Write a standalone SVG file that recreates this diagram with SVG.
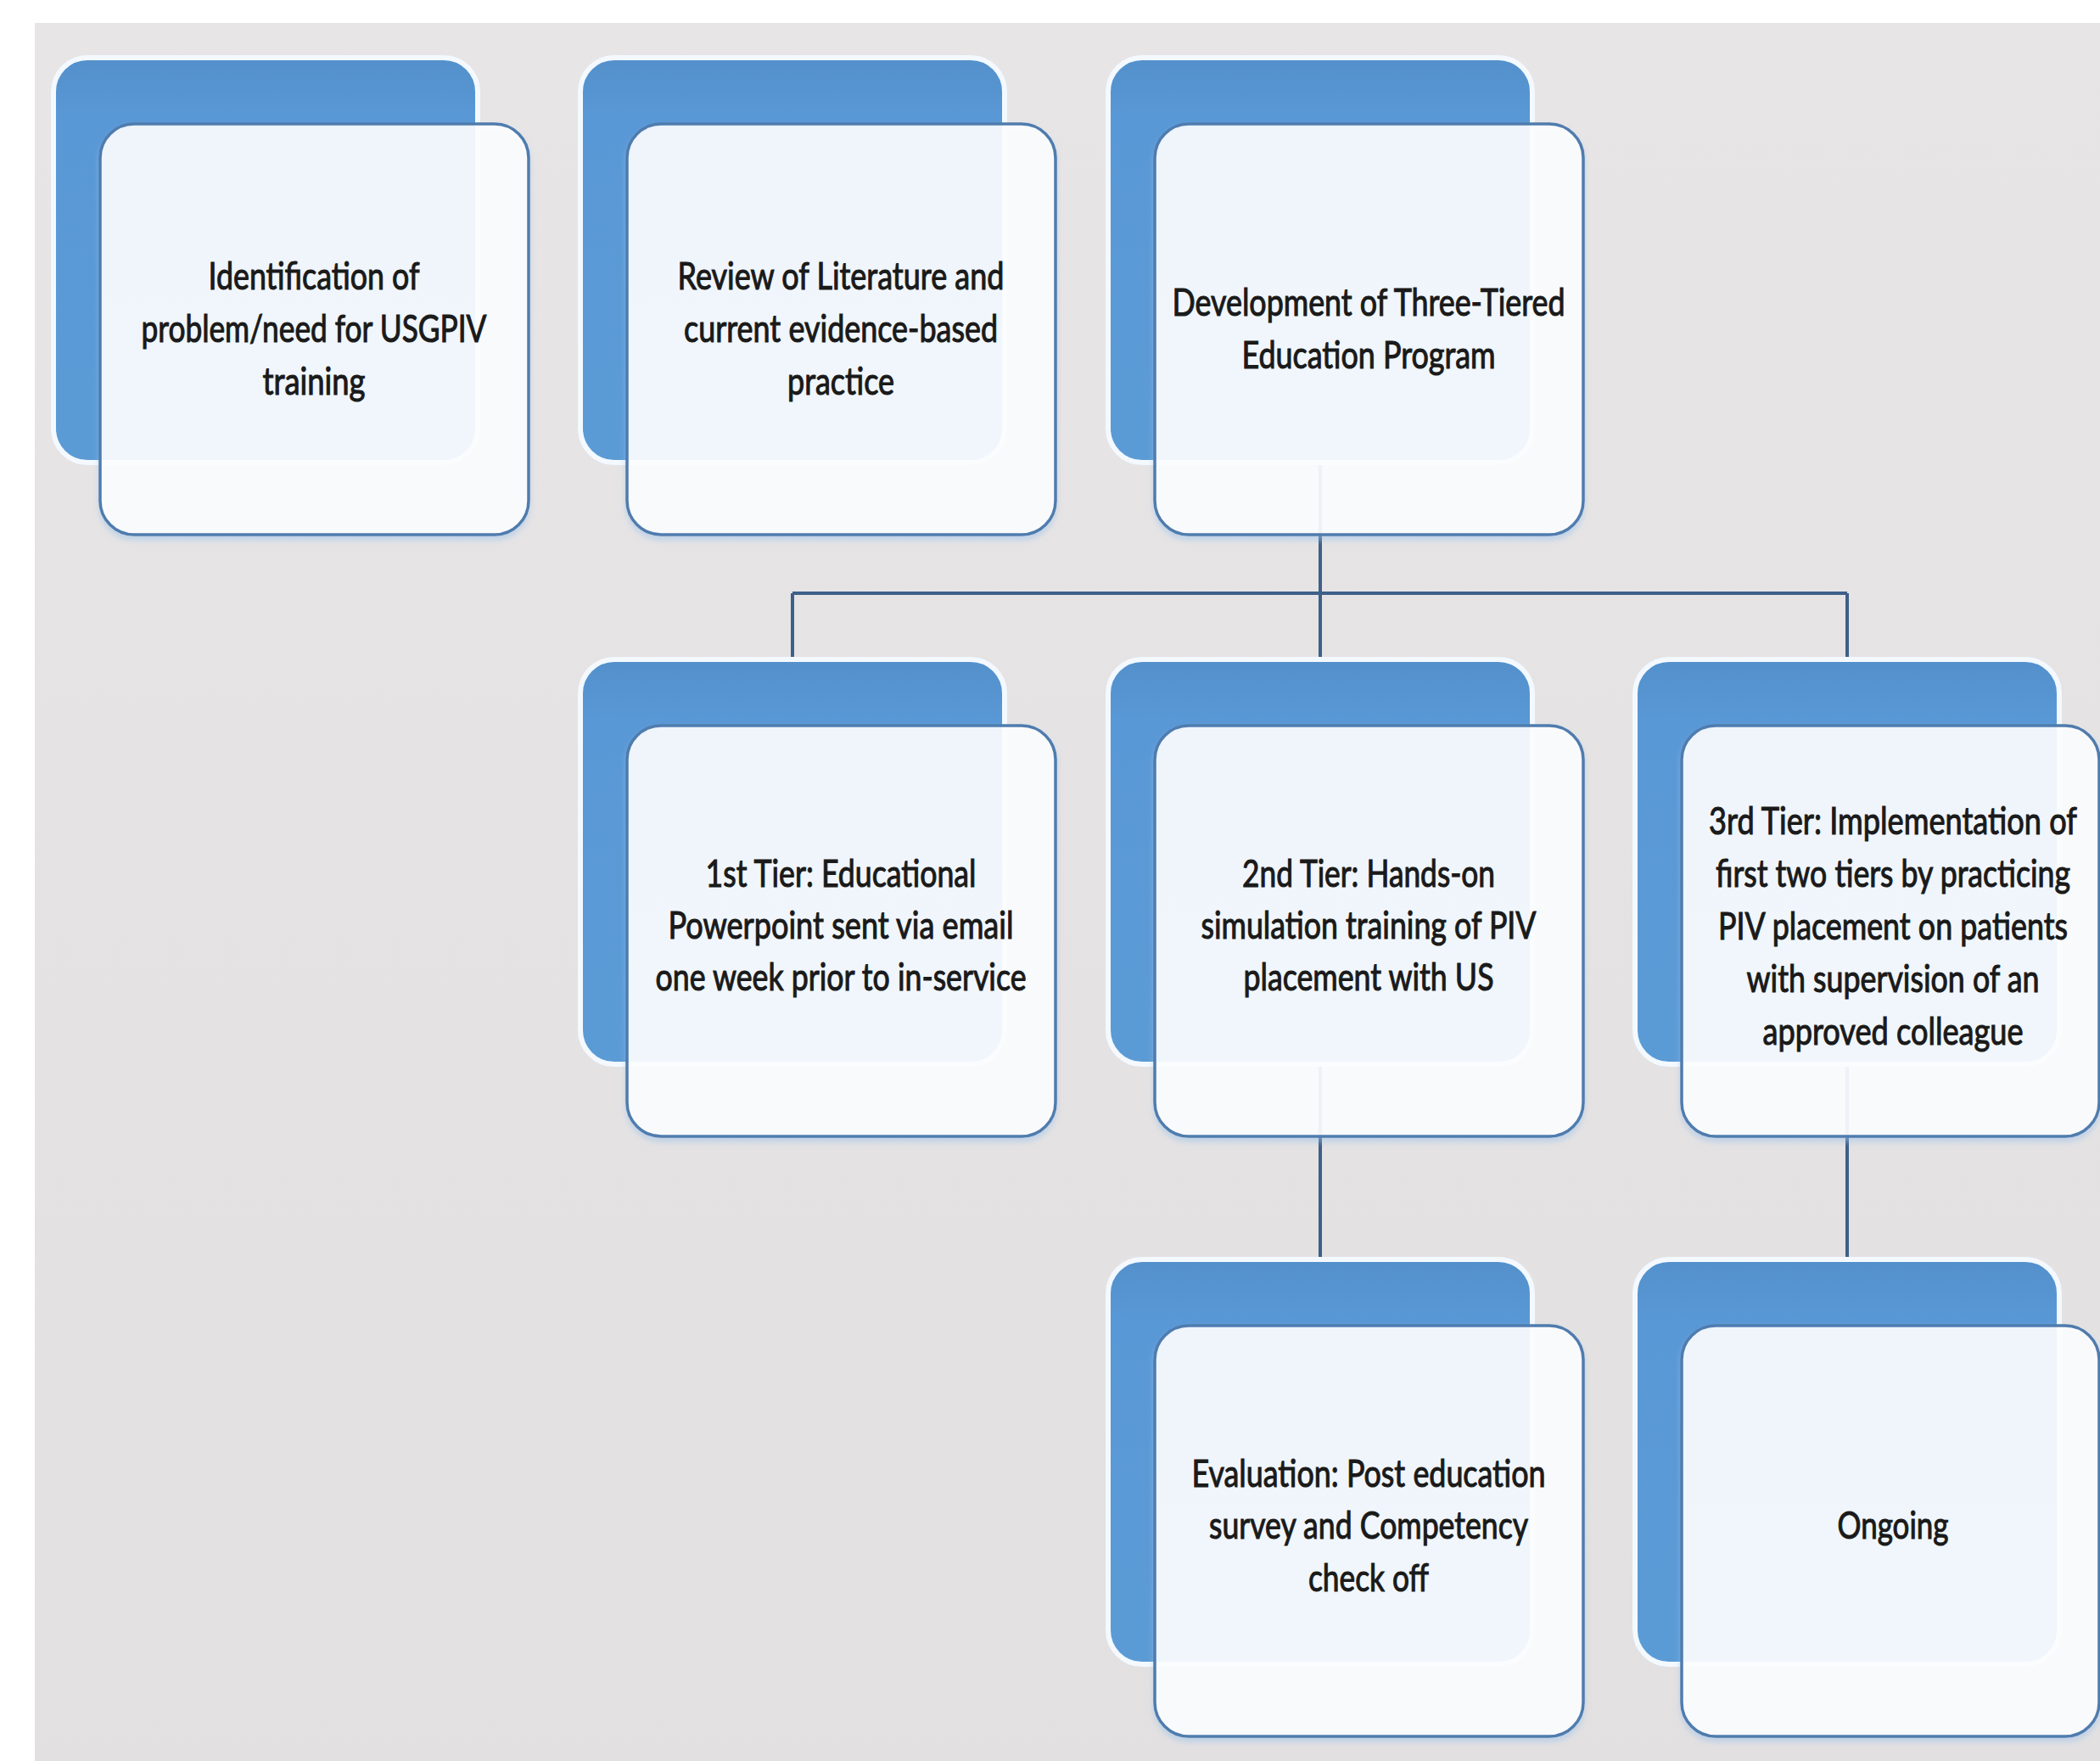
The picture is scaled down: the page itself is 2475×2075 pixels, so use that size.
<svg xmlns="http://www.w3.org/2000/svg" width="2475" height="2075" viewBox="0 0 2475 2075">
  <defs>
    <linearGradient id="bg" x1="0" y1="0" x2="0" y2="1">
      <stop offset="0" stop-color="#e7e5e6"/>
      <stop offset="1" stop-color="#e2e0e1"/>
    </linearGradient>
    <linearGradient id="tab" x1="0" y1="0" x2="0" y2="1">
      <stop offset="0" stop-color="#5390cb"/>
      <stop offset="0.15" stop-color="#5998d6"/>
      <stop offset="1" stop-color="#5b9bd5"/>
    </linearGradient>
    <filter id="glow" x="-5%" y="-5%" width="110%" height="112%">
      <feDropShadow dx="0" dy="5" stdDeviation="3" flood-color="#9cc2ea" flood-opacity="0.55"/>
    </filter>
    <style>
      .back { fill: url(#tab); stroke: #f3f9ff; stroke-width: 6; }
      .card { fill: #ffffff; fill-opacity: 0.88; stroke: #4f7cae; stroke-width: 3.5; filter: url(#glow); }
      .lbl { font-family: Lato, "Open Sans", "Liberation Sans", sans-serif; font-size: 36px; fill: #1a1a1a; stroke: #1a1a1a; stroke-width: 0.9; text-anchor: middle; }
      .wire { fill: none; stroke: #3e6089; stroke-width: 4; }
    </style>
  </defs>

  <!-- page background -->
  <rect x="0" y="0" width="2475" height="2075" fill="#ffffff"/>
  <rect x="41" y="27" width="2434" height="2048" fill="url(#bg)"/>

  <!-- hierarchy connectors (drawn beneath the cards) -->
  <g id="connectors">
    <path class="wire" d="M1556 545 V699"/>
    <path class="wire" d="M934 699 H2177"/>
    <path class="wire" d="M934 699 V777"/>
    <path class="wire" d="M1556 699 V777"/>
    <path class="wire" d="M2177 699 V777"/>
    <path class="wire" d="M1556 1254 V1484"/>
    <path class="wire" d="M2177 1254 V1484"/>
  </g>

  <!-- row 1 -->
  <g id="node-identification">
    <rect class="back" x="63" y="68" width="500" height="477" rx="40"/>
    <rect class="card" x="118" y="146" width="505" height="484" rx="40"/>
    <text class="lbl" transform="translate(370 341) scale(1 1.25)" textLength="249" lengthAdjust="spacingAndGlyphs">Identification of</text>
    <text class="lbl" transform="translate(370 403) scale(1 1.25)" textLength="407" lengthAdjust="spacingAndGlyphs">problem/need for USGPIV</text>
    <text class="lbl" transform="translate(370 465) scale(1 1.25)" textLength="121" lengthAdjust="spacingAndGlyphs">training</text>
  </g>

  <g id="node-review">
    <rect class="back" x="684" y="68" width="500" height="477" rx="40"/>
    <rect class="card" x="739" y="146" width="505" height="484" rx="40"/>
    <text class="lbl" transform="translate(991 341) scale(1 1.25)" textLength="385" lengthAdjust="spacingAndGlyphs">Review of Literature and</text>
    <text class="lbl" transform="translate(991 403) scale(1 1.25)" textLength="370" lengthAdjust="spacingAndGlyphs">current evidence-based</text>
    <text class="lbl" transform="translate(991 465) scale(1 1.25)" textLength="126" lengthAdjust="spacingAndGlyphs">practice</text>
  </g>

  <g id="node-development">
    <rect class="back" x="1306" y="68" width="500" height="477" rx="40"/>
    <rect class="card" x="1361" y="146" width="505" height="484" rx="40"/>
    <text class="lbl" transform="translate(1613 372) scale(1 1.25)" textLength="463" lengthAdjust="spacingAndGlyphs">Development of Three-Tiered</text>
    <text class="lbl" transform="translate(1613 434) scale(1 1.25)" textLength="299" lengthAdjust="spacingAndGlyphs">Education Program</text>
  </g>

  <!-- row 2 -->
  <g id="node-tier1">
    <rect class="back" x="684" y="777" width="500" height="477" rx="40"/>
    <rect class="card" x="739" y="855" width="505" height="484" rx="40"/>
    <text class="lbl" transform="translate(991 1045) scale(1 1.25)" textLength="319" lengthAdjust="spacingAndGlyphs">1st Tier: Educational</text>
    <text class="lbl" transform="translate(991 1106) scale(1 1.25)" textLength="407" lengthAdjust="spacingAndGlyphs">Powerpoint sent via email</text>
    <text class="lbl" transform="translate(991 1167) scale(1 1.25)" textLength="437" lengthAdjust="spacingAndGlyphs">one week prior to in-service</text>
  </g>

  <g id="node-tier2">
    <rect class="back" x="1306" y="777" width="500" height="477" rx="40"/>
    <rect class="card" x="1361" y="855" width="505" height="484" rx="40"/>
    <text class="lbl" transform="translate(1613 1045) scale(1 1.25)" textLength="298" lengthAdjust="spacingAndGlyphs">2nd Tier: Hands-on</text>
    <text class="lbl" transform="translate(1613 1106) scale(1 1.25)" textLength="395" lengthAdjust="spacingAndGlyphs">simulation training of PIV</text>
    <text class="lbl" transform="translate(1613 1167) scale(1 1.25)" textLength="295" lengthAdjust="spacingAndGlyphs">placement with US</text>
  </g>

  <g id="node-tier3">
    <rect class="back" x="1927" y="777" width="500" height="477" rx="40"/>
    <rect class="card" x="1982" y="855" width="492" height="484" rx="40"/>
    <text class="lbl" transform="translate(2231 983) scale(1 1.25)" textLength="434" lengthAdjust="spacingAndGlyphs">3rd Tier: Implementation of</text>
    <text class="lbl" transform="translate(2231 1045) scale(1 1.25)" textLength="418" lengthAdjust="spacingAndGlyphs">first two tiers by practicing</text>
    <text class="lbl" transform="translate(2231 1107) scale(1 1.25)" textLength="412" lengthAdjust="spacingAndGlyphs">PIV placement on patients</text>
    <text class="lbl" transform="translate(2231 1169) scale(1 1.25)" textLength="345" lengthAdjust="spacingAndGlyphs">with supervision of an</text>
    <text class="lbl" transform="translate(2231 1231) scale(1 1.25)" textLength="307" lengthAdjust="spacingAndGlyphs">approved colleague</text>
  </g>

  <!-- row 3 -->
  <g id="node-evaluation">
    <rect class="back" x="1306" y="1484" width="500" height="477" rx="40"/>
    <rect class="card" x="1361" y="1562" width="505" height="484" rx="40"/>
    <text class="lbl" transform="translate(1613 1752) scale(1 1.25)" textLength="417" lengthAdjust="spacingAndGlyphs">Evaluation: Post education</text>
    <text class="lbl" transform="translate(1613 1813) scale(1 1.25)" textLength="376" lengthAdjust="spacingAndGlyphs">survey and Competency</text>
    <text class="lbl" transform="translate(1613 1875) scale(1 1.25)" textLength="142" lengthAdjust="spacingAndGlyphs">check off</text>
  </g>

  <g id="node-ongoing">
    <rect class="back" x="1927" y="1484" width="500" height="477" rx="40"/>
    <rect class="card" x="1982" y="1562" width="492" height="484" rx="40"/>
    <text class="lbl" transform="translate(2231 1813) scale(1 1.25)" textLength="131" lengthAdjust="spacingAndGlyphs">Ongoing</text>
  </g>
</svg>
